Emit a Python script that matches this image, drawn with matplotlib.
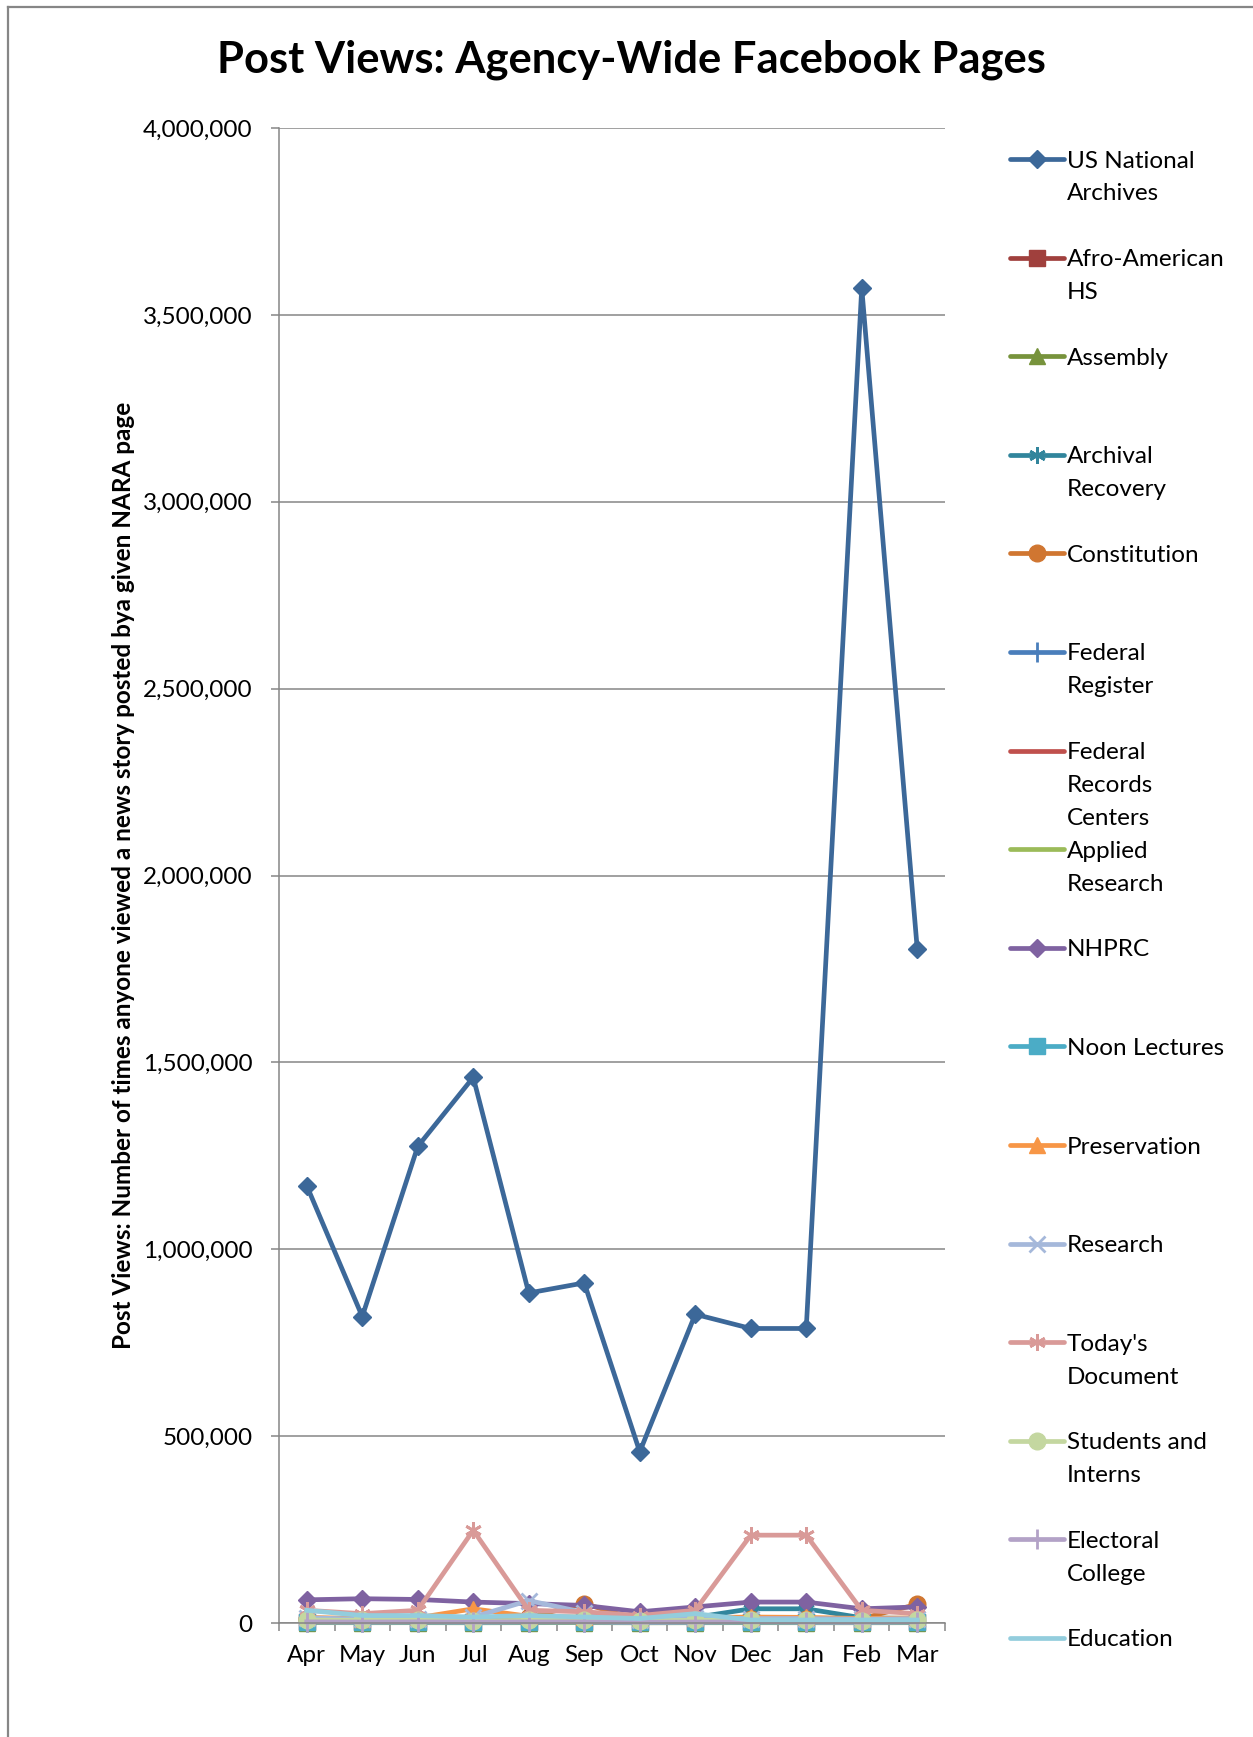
import matplotlib.pyplot as plt
from matplotlib.lines import Line2D
from matplotlib.ticker import FuncFormatter, FixedLocator, MultipleLocator
import numpy as np

plt.rcParams['font.family'] = ['Lato', 'DejaVu Sans']

months = ['Apr', 'May', 'Jun', 'Jul', 'Aug', 'Sep', 'Oct', 'Nov', 'Dec', 'Jan', 'Feb', 'Mar']

# values (post views per month)
us_national_archives = [1170000, 820000, 1275000, 1460000, 883000, 910000, 458000, 826000, 788000, 788000, 3572000, 1803000]
afro_american_hs = [3000, 2000, 2500, 2000, 2500, 3000, 1500, 2000, 2500, 2000, 1500, 2500]
assembly = [1000, 800, 900, 700, 900, 1000, 600, 800, 900, 800, 700, 900]
archival_recovery = [12000, 9000, 10000, 9000, 11000, 12000, 8000, 15000, 38000, 38000, 14000, 12000]
constitution = [10000, 8000, 9000, 8000, 15000, 52000, 7000, 12000, 10000, 10000, 12000, 50000]
federal_register = [4000, 3000, 3500, 3000, 3500, 4000, 2500, 3000, 3500, 3000, 2500, 3500]
federal_records_centers = [2000, 1500, 1800, 1500, 1800, 2000, 1200, 1500, 1800, 1500, 1200, 1800]
applied_research = [1500, 1200, 1300, 1100, 1300, 1500, 900, 1200, 1300, 1200, 1000, 1300]
nhprc = [62000, 65000, 63000, 56000, 52000, 47000, 30000, 43000, 56000, 56000, 38000, 43000]
noon_lectures = [2500, 2000, 2200, 1800, 2200, 2500, 1500, 2000, 2200, 2000, 1800, 2200]
preservation = [15000, 12000, 14000, 38000, 18000, 16000, 10000, 14000, 16000, 15000, 12000, 14000]
research = [14000, 10000, 12000, 16000, 60000, 28000, 9000, 14000, 12000, 12000, 10000, 12000]
todays_document = [34000, 25000, 34000, 248000, 34000, 30000, 20000, 34000, 235000, 235000, 34000, 25000]
students_and_interns = [8000, 7000, 7500, 6000, 7000, 8000, 6000, 7000, 7500, 7000, 6500, 7500]
electoral_college = [3000, 2500, 3000, 2500, 3000, 3000, 2000, 2500, 3000, 2500, 2000, 3000]
education = [34000, 20000, 20000, 16000, 20000, 16000, 12000, 25000, 8000, 8000, 8000, 8000]

series = [
    ("US National\nArchives", us_national_archives, '#3C6899', 'D', 9.5),
    ("Afro-American\nHS", afro_american_hs, '#A0403D', 's', 12),
    ("Assembly", assembly, '#77933C', '^', 12),
    ("Archival\nRecovery", archival_recovery, '#31859C', (6, 2, 0), 12),
    ("Constitution", constitution, '#D07631', 'o', 12),
    ("Federal\nRegister", federal_register, '#4A7EBB', '|', 14),
    ("Federal\nRecords\nCenters", federal_records_centers, '#C0504D', None, 0),
    ("Applied\nResearch", applied_research, '#9BBB59', None, 0),
    ("NHPRC", nhprc, '#7F62A1', 'D', 9.5),
    ("Noon Lectures", noon_lectures, '#4BACC6', 's', 12),
    ("Preservation", preservation, '#F79646', '^', 12),
    ("Research", research, '#A5B8DA', 'x', 11),
    ("Today's\nDocument", todays_document, '#D99A98', (6, 2, 0), 12),
    ("Students and\nInterns", students_and_interns, '#C4D7A0', 'o', 12),
    ("Electoral\nCollege", electoral_college, '#B3A2C7', '|', 14),
    ("Education", education, '#93CDDD', None, 0),
]

W, H = 1253, 1737
fs = 17.5
fig = plt.figure(figsize=(W / 100, H / 100), dpi=100)
ax = fig.add_axes([279 / W, 1 - 1623 / H, (945 - 279) / W, (1623 - 128) / H])

x = np.arange(len(months))
for label, vals, color, marker, ms in series:
    mew = 2 if marker in ('x', '|', (6, 2, 0)) else 1
    ax.plot(x, vals, color=color, linewidth=3.4, marker=marker, markersize=ms,
            markerfacecolor=color, markeredgecolor=color, markeredgewidth=mew,
            clip_on=False)

grid_c = '#868686'
ax.set_xlim(-0.5, 11.5)
ax.set_ylim(0, 4000000)
ax.yaxis.set_major_locator(MultipleLocator(500000))
ax.yaxis.set_major_formatter(FuncFormatter(lambda v, p: f"{v:,.0f}"))
ax.grid(axis='y', color=grid_c, linewidth=1.1)
ax.set_axisbelow(True)
ax.set_xticks(x)
ax.set_xticklabels(months)
ax.xaxis.set_minor_locator(FixedLocator(np.arange(-0.5, 12, 1)))
ax.tick_params(axis='x', which='major', length=0, pad=16, labelsize=fs)
ax.tick_params(axis='x', which='minor', length=6, width=1.1, color=grid_c, direction='out')
ax.tick_params(axis='y', length=6, width=1.1, color=grid_c, pad=13, labelsize=fs)
for s in ['top', 'right']:
    ax.spines[s].set_visible(False)
for s in ['left', 'bottom']:
    ax.spines[s].set_color(grid_c)
    ax.spines[s].set_linewidth(1.1)

fig.text(124 / W, 1 - 875 / H,
         "Post Views: Number of times anyone viewed a news story posted bya given NARA page",
         fontsize=fs, fontweight='bold', rotation=90, ha='center', va='center')

fig.text(631 / W, 1 - 60 / H, "Post Views: Agency-Wide Facebook Pages",
         fontsize=31.3, fontweight='bold', ha='center', va='center')

# legend drawn by hand so the handle lines up with the first text line
y0 = 159
step = 98.6
line_h = 33
for i, (label, vals, color, marker, ms) in enumerate(series):
    yy = 1 - (y0 + i * step) / H
    mew = 2 if marker in ('x', '|', (6, 2, 0)) else 1
    fig.add_artist(Line2D([1010 / W, 1064 / W], [yy, yy], color=color, linewidth=3.4,
                          solid_capstyle='round'))
    if marker is not None:
        fig.add_artist(Line2D([1037 / W], [yy], color=color, marker=marker, markersize=ms,
                              markerfacecolor=color, markeredgecolor=color, markeredgewidth=mew))
    for k, part in enumerate(label.split('\n')):
        fig.text(1067 / W, 1 - (y0 + 2 + i * step + k * line_h) / H, part,
                 fontsize=fs, ha='left', va='center')

# outer chart border (left and top edges only are visible)
fig.add_artist(Line2D([8 / W, 8 / W], [0, 1 - 7 / H], color=grid_c, linewidth=1.6))
fig.add_artist(Line2D([8 / W, 1], [1 - 7 / H, 1 - 7 / H], color=grid_c, linewidth=1.6))

fig.savefig("out.png", dpi=100)
